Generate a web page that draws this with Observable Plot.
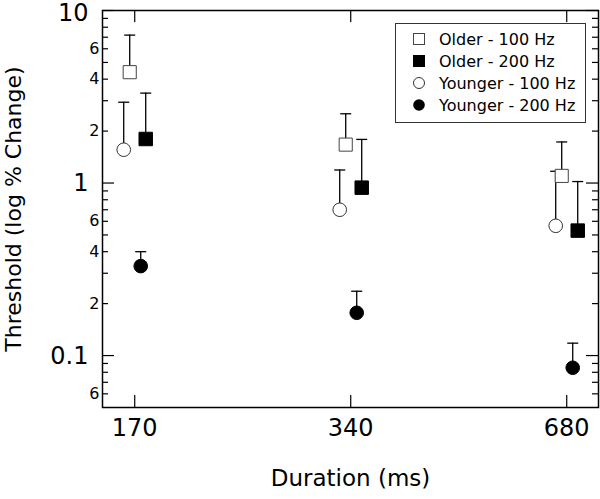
<!DOCTYPE html>
<html>
<head>
<meta charset="utf-8">
<script src="https://cdn.jsdelivr.net/npm/d3@7"></script>
<script src="https://cdn.jsdelivr.net/npm/@observablehq/plot@0.6"></script>
<style>
  html, body { margin: 0; padding: 0; background: white; }
  #wrap { position: relative; width: 600px; height: 499px; font-family: "DejaVu Sans", sans-serif; }
  #legend { position: absolute; left: 395px; top: 23px; width: 189px; height: 94px;
            border: 1px solid #333; background: white; padding-top: 4px; box-sizing: content-box; }
  #legend .row { display: flex; align-items: center; height: 22px; font-size: 16px; color: black; }
  #legend svg { margin-left: 17px; margin-right: 14px; flex: none; }
</style>
</head>
<body>
<div id="wrap"></div>
<script>
// ---- data ----
const durations = [170, 340, 680];
const seriesNames = ["Older - 100 Hz", "Older - 200 Hz", "Younger - 100 Hz", "Younger - 200 Hz"];
const older100 = [4.39, 1.67, 1.10];
const older100Upper = [7.2, 2.52, 1.73];
const older200 = [1.80, 0.94, 0.53];
const older200Upper = [3.32, 1.79, 1.02];
const younger100 = [1.56, 0.70, 0.565];
const younger100Upper = [2.94, 1.19, 1.17];
const younger200 = [0.33, 0.177, 0.085];
const younger200Upper = [0.40, 0.236, 0.118];

// axis tick values / labels
const yTopTick = [10];
const yTopLabel = ["10"];
const yMajorTicks = [0.1, 1, 10];
const yMajorLowerTicks = [0.1, 1];
const yMajorLowerLabels = ["0.1", "1"];
const yMinorTicks = [0.06, 0.07, 0.08, 0.09, 0.2, 0.3, 0.4, 0.5, 0.6, 0.7, 0.8, 0.9, 2, 3, 4, 5, 6, 7, 8, 9];
const yMinorLabelTicks = [0.06, 0.2, 0.4, 0.6, 2, 4, 6];
const yMinorLabels = ["6", "2", "4", "6", "2", "4", "6"];
const xTickLabels = ["170", "340", "680"];

// ---- styles (kept separate from data) ----
const seriesValues = [older100, older200, younger100, younger200];
const seriesUppers = [older100Upper, older200Upper, younger100Upper, younger200Upper];
const seriesStyle = [
  {symbol: "square", fill: "white", stroke: "#444", r: 7.4, dx: -5},
  {symbol: "square", fill: "black", stroke: "black", r: 7.6, dx: 11},
  {symbol: "circle", fill: "white", stroke: "#333", r: 6.8, dx: -11},
  {symbol: "circle", fill: "black", stroke: "black", r: 6.8, dx: 6}
];

const rowsBySeries = seriesNames.map((name, s) =>
  durations.map((d, i) => ({series: name, duration: d, value: seriesValues[s][i], upper: seriesUppers[s][i]}))
);

const capSymbol = {
  draw(context, size) {
    const r = Math.sqrt(size / Math.PI);
    context.moveTo(-r, 0);
    context.lineTo(r, 0);
  }
};

const W = 600, H = 499, mL = 102, mR = 2, mT = 10, mB = 92;
const plotW = W - mL - mR, plotH = H - mT - mB;

const errMarks = rowsBySeries.flatMap((rows, s) => [
  Plot.ruleX(rows, {x: "duration", y1: "value", y2: "upper", dx: seriesStyle[s].dx, stroke: "black", strokeWidth: 1.3}),
  Plot.dot(rows, {x: "duration", y: "upper", dx: seriesStyle[s].dx, symbol: capSymbol, r: 5.5, fill: "none", stroke: "black", strokeWidth: 1.3})
]);
const dotOrder = [2, 3, 1, 0];
const dotMarks = dotOrder.map(s =>
  Plot.dot(rowsBySeries[s], {x: "duration", y: "value", dx: seriesStyle[s].dx, symbol: seriesStyle[s].symbol,
    r: seriesStyle[s].r, fill: seriesStyle[s].fill, stroke: seriesStyle[s].stroke, strokeWidth: 1})
);

const chart = Plot.plot({
  width: W, height: H,
  marginLeft: mL, marginRight: mR, marginTop: mT, marginBottom: mB,
  style: {fontFamily: "DejaVu Sans, sans-serif", fontSize: "16px", background: "white", color: "black", overflow: "visible"},
  x: {type: "log", base: 2, domain: [153.3, 753], axis: null},
  y: {type: "log", domain: [0.05, 10], axis: null},
  marks: [
    // inward ticks, mirrored on all sides
    Plot.tickY(yMajorTicks, {y: d => d, insetRight: plotW - 12, stroke: "black", strokeWidth: 1.2}),
    Plot.tickY(yMinorTicks, {y: d => d, insetRight: plotW - 6, stroke: "black", strokeWidth: 1.2}),
    Plot.tickY(yMajorTicks, {y: d => d, insetLeft: plotW - 12, stroke: "black", strokeWidth: 1.2}),
    Plot.tickY(yMinorTicks, {y: d => d, insetLeft: plotW - 6, stroke: "black", strokeWidth: 1.2}),
    Plot.tickX(durations, {x: d => d, insetTop: plotH - 12, stroke: "black", strokeWidth: 1.2}),
    Plot.tickX(durations, {x: d => d, insetBottom: plotH - 12, stroke: "black", strokeWidth: 1.2}),
    Plot.frame({stroke: "black", strokeWidth: 1.5}),
    // tick labels
    Plot.text(yTopTick, {y: d => d, text: (d, i) => yTopLabel[i], frameAnchor: "left", textAnchor: "end",
      dx: -14, dy: 2.5, fontSize: 24}),
    Plot.text(yMajorLowerTicks, {y: d => d, text: (d, i) => yMajorLowerLabels[i], frameAnchor: "left", textAnchor: "end",
      dx: -14, dy: 0.5, fontSize: 24}),
    Plot.text(yMinorLabelTicks, {y: d => d, text: (d, i) => yMinorLabels[i], frameAnchor: "left", textAnchor: "end",
      dx: -3, fontSize: 16}),
    Plot.text(durations, {x: d => d, text: (d, i) => xTickLabels[i], frameAnchor: "bottom", lineAnchor: "top",
      dy: 11, fontSize: 24}),
    // axis titles
    Plot.text(["Duration (ms)"], {text: d => d, frameAnchor: "bottom", dy: 78, fontSize: 23}),
    Plot.text(["Threshold (log % Change)"], {text: d => d, frameAnchor: "left", textAnchor: "middle",
      rotate: -90, dx: -89, fontSize: 22}),
    ...errMarks,
    ...dotMarks
  ]
});

const wrap = document.getElementById("wrap");
wrap.appendChild(chart);

// legend
const legend = document.createElement("div");
legend.id = "legend";
const legendMarkers = [
  `<rect x="0.5" y="0.5" width="11" height="11" fill="white" stroke="#444"/>`,
  `<rect x="0.5" y="0.5" width="11" height="11" fill="black" stroke="black"/>`,
  `<circle cx="6" cy="6" r="5.5" fill="white" stroke="#333"/>`,
  `<circle cx="6" cy="6" r="5.8" fill="black"/>`
];
seriesNames.forEach((name, s) => {
  const row = document.createElement("div");
  row.className = "row";
  row.innerHTML = `<svg width="12" height="12" viewBox="0 0 12 12">${legendMarkers[s]}</svg><span>${name}</span>`;
  legend.appendChild(row);
});
wrap.appendChild(legend);
</script>
</body>
</html>
